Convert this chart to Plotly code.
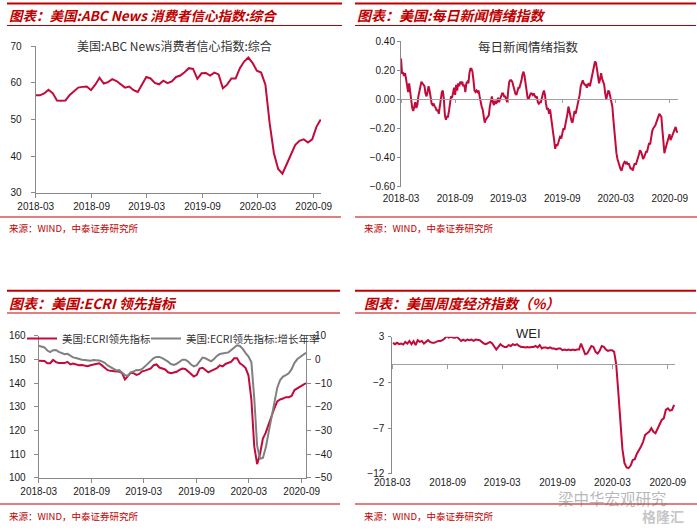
import pandas as pd
import plotly.graph_objects as go

W, H = 697, 529

# ---------------- data ----------------
tick_dates = ["2018-03-01", "2018-09-01", "2019-03-01", "2019-09-01", "2020-03-01", "2020-09-01"]
tick_labels = ["2018-03", "2018-09", "2019-03", "2019-09", "2020-03", "2020-09"]

# Panel 1: ABC News consumer comfort index (bi-weekly readings)
abc_start, abc_end = "2018-03-01", "2020-09-24"
abc_values = [56.6, 56.6, 57.1, 58.1, 57.2, 55.2, 55.1, 55.2, 56.7, 57.7,
              58.7, 58.9, 59.0, 58.0, 59.5, 61.4, 59.8, 60.2, 61.0, 60.5,
              59.5, 58.7, 59.0, 58.0, 57.5, 59.4, 61.6, 61.2, 60.0, 59.6,
              60.6, 59.9, 60.4, 61.6, 62.0, 62.9, 64.0, 63.8, 61.1, 62.6,
              62.7, 62.0, 62.8, 62.3, 58.5, 59.5, 61.2, 61.2, 64.0, 65.8,
              66.9, 65.4, 63.3, 62.8, 59.5, 49.0, 40.8, 36.5, 35.2, 37.8,
              40.3, 43.0, 44.2, 44.6, 43.7, 44.6, 48.0, 50.0]

# Panel 2: daily news sentiment index
dns_start, dns_end = "2018-03-01", "2020-09-28"
dns_values = [0.28, 0.18, 0.18, 0.16, 0.18, 0.13, 0.09, 0.05, 0.11, 0.05,
              0.01, -0.06, -0.08, -0.05, -0.02, -0.06, -0.04, 0.02, 0.05, 0.08,
              0.12, 0.11, 0.10, 0.09, 0.04, 0.02, 0.05, 0.09, 0.06, -0.00,
              -0.03, -0.04, -0.03, -0.05, -0.06, -0.08, -0.07, -0.10, -0.04, 0.01,
              0.05, 0.06, 0.00, -0.11, -0.14, -0.12, -0.12, -0.08, -0.04, 0.02,
              0.01, 0.06, 0.08, 0.03, 0.10, 0.06, 0.11, 0.09, 0.12, 0.11,
              0.12, 0.09, 0.10, 0.05, 0.11, 0.12, 0.11, 0.18, 0.21, 0.21,
              0.19, 0.13, 0.06, 0.05, 0.06, 0.05, 0.06, 0.02, -0.02, -0.05,
              -0.07, -0.13, -0.16, -0.14, -0.13, -0.12, -0.11, -0.05, -0.02, 0.02,
              -0.02, -0.04, -0.01, -0.03, -0.02, 0.01, -0.02, 0.00, 0.02, 0.04,
              0.04, 0.02, 0.02, 0.00, -0.02, 0.06, 0.12, 0.13, 0.13, 0.12,
              0.09, 0.05, 0.04, 0.03, 0.05, 0.08, 0.08, 0.10, 0.13, 0.17,
              0.19, 0.16, 0.11, 0.05, 0.01, 0.00, 0.02, 0.04, 0.04, 0.03,
              0.04, 0.02, 0.01, 0.02, -0.02, -0.03, -0.02, -0.02, 0.02, 0.04,
              0.06, 0.03, -0.03, -0.07, -0.06, -0.10, -0.07, -0.14, -0.21, -0.23,
              -0.28, -0.34, -0.31, -0.32, -0.30, -0.27, -0.25, -0.27, -0.23, -0.20,
              -0.21, -0.18, -0.13, -0.10, -0.05, -0.08, -0.13, -0.15, -0.16, -0.12,
              -0.08, -0.10, -0.07, -0.04, 0.00, 0.03, 0.09, 0.12, 0.13, 0.11,
              0.10, 0.10, 0.08, 0.10, 0.11, 0.09, 0.12, 0.16, 0.18, 0.22,
              0.26, 0.25, 0.20, 0.14, 0.11, 0.14, 0.18, 0.14, 0.11, 0.10,
              0.04, 0.00, 0.03, 0.06, 0.05, 0.02, 0.00, -0.05, -0.14, -0.23,
              -0.30, -0.37, -0.41, -0.44, -0.46, -0.48, -0.49, -0.46, -0.44, -0.43,
              -0.44, -0.43, -0.45, -0.44, -0.46, -0.48, -0.47, -0.49, -0.46, -0.44,
              -0.45, -0.43, -0.41, -0.38, -0.35, -0.36, -0.38, -0.41, -0.40, -0.37,
              -0.36, -0.36, -0.32, -0.30, -0.31, -0.26, -0.22, -0.20, -0.19, -0.18,
              -0.16, -0.14, -0.11, -0.10, -0.11, -0.12, -0.21, -0.32, -0.37, -0.34,
              -0.31, -0.30, -0.27, -0.24, -0.28, -0.26, -0.24, -0.22, -0.21, -0.19,
              -0.22, -0.23]

# Panel 3: ECRI weekly leading index (level, left axis) and growth rate (%, right axis)
ecri_start, ecri_end = "2018-03-01", "2020-09-16"
ecri_level = [149.5, 149.5, 149.4, 148.4, 148.4, 149.8, 148.9, 148.5, 148.4, 148.5,
              149.0, 147.9, 148.3, 148.0, 147.6, 147.7, 147.4, 147.2, 147.6, 147.8,
              148.0, 148.4, 147.5, 146.3, 145.5, 145.2, 144.9, 144.9, 144.9, 144.3,
              141.6, 142.9, 144.4, 144.2, 143.5, 143.9, 145.0, 145.3, 145.6, 146.2,
              147.6, 147.9, 146.6, 146.3, 145.8, 144.6, 144.2, 144.5, 144.8, 145.6,
              146.2, 146.0, 145.0, 143.7, 142.8, 143.5, 146.2, 146.5, 145.6, 144.6,
              145.2, 145.7, 146.3, 147.5, 147.1, 148.1, 148.5, 149.1, 150.5, 150.5,
              148.4, 147.6, 146.4, 143.2, 133.0, 113.3, 105.8, 110.1, 116.6, 119.1,
              122.6, 126.2, 129.4, 132.3, 133.1, 133.5, 134.1, 134.1, 134.6, 137.1,
              137.9, 138.6, 139.2, 140.0]
ecri_growth = [5.8, 5.5, 5.1, 3.8, 3.1, 3.9, 4.0, 3.2, 2.6, 2.2,
               2.4, 1.6, 0.9, 0.6, 0.1, -0.1, -0.2, -0.5, -0.5, -0.2,
               -0.2, -0.4, -0.8, -1.4, -2.5, -3.2, -4.2, -4.6, -4.5, -5.5,
               -6.6, -6.9, -5.4, -5.1, -4.4, -4.5, -4.0, -2.9, -1.7, -0.7,
               0.6, 1.1, 1.1, 0.6, -0.1, -0.9, -1.9, -2.3, -1.8, -1.0,
               -0.1, -0.1, -0.9, -2.1, -2.9, -2.4, -1.0, 0.8, 0.5, -0.3,
               -0.8, 0.2, 1.5, 2.3, 2.6, 2.7, 3.0, 4.0, 5.0, 6.0,
               5.7, 4.5, 2.7, 1.2, -1.2, -16.4, -36.5, -41.9, -41.6, -37.2,
               -30.8, -23.9, -18.1, -11.9, -8.7, -7.2, -6.6, -5.8, -4.1, -1.4,
               0.2, 1.1, 1.8, 2.8]

# Panel 4: Weekly Economic Index (%)
wei_start, wei_end = "2018-03-03", "2020-09-22"
wei_values = [2.35, 2.20, 2.35, 2.20, 2.27, 2.16, 2.45, 2.27, 2.56, 2.20,
              2.53, 2.10, 2.64, 2.45, 2.56, 2.27, 2.45, 2.64, 2.45, 2.35,
              2.35, 2.45, 2.56, 2.56, 2.64, 2.82, 3.10, 2.93, 3.00, 2.93,
              2.90, 3.00, 2.82, 2.56, 2.70, 2.56, 2.70, 2.64, 2.70, 2.56,
              2.70, 2.70, 2.64, 2.45, 2.27, 2.20, 2.35, 2.45, 2.27, 1.90,
              1.62, 1.90, 2.20, 2.00, 1.90, 1.90, 2.10, 2.00, 2.20, 2.10,
              2.20, 2.00, 1.90, 1.90, 1.84, 1.90, 1.84, 1.90, 1.90, 2.00,
              1.84, 2.10, 1.73, 1.84, 1.84, 1.73, 1.84, 1.73, 1.73, 1.62,
              1.73, 1.73, 1.54, 1.62, 1.54, 1.62, 1.54, 1.62, 1.54, 1.62,
              1.62, 2.27, 1.73, 1.10, 1.18, 1.62, 2.00, 1.90, 1.36, 1.18,
              1.47, 2.00, 1.90, 1.62, 1.47, 1.54, 1.54, 1.36, 0.00, -3.00,
              -6.70, -9.30, -10.80, -11.30, -11.38, -11.10, -10.50, -10.40, -9.80, -9.45,
              -9.00, -8.50, -7.74, -7.56, -7.37, -7.00, -7.40, -7.56, -7.12, -6.54,
              -6.10, -5.92, -5.00, -4.83, -5.08, -5.00, -4.46]

abc_dates = pd.date_range(abc_start, abc_end, periods=len(abc_values))
dns_dates = pd.date_range(dns_start, dns_end, periods=len(dns_values))
ecri_dates = pd.date_range(ecri_start, ecri_end, periods=len(ecri_level))
wei_dates = pd.date_range(wei_start, wei_end, periods=len(wei_values))

# ---------------- styling ----------------
RED = "#C20B3A"
HEAD_RED = "#C00000"
GRAY_LINE = "#808080"
AX = "#8a8a8a"
TICKFONT = "Liberation Sans, Arial, Noto Sans CJK SC"
CJK = "Noto Sans CJK SC, Liberation Sans"


def fx(px):
    return px / W


def fy(py):
    return 1 - py / H


def xaxis(dom, rng, anchor, **kw):
    d = dict(domain=[fx(dom[0]), fx(dom[1])], range=rng, anchor=anchor,
             type="date", tickvals=tick_dates, ticktext=tick_labels,
             showgrid=False, zeroline=False, showline=True, linecolor=AX,
             ticks="outside", ticklen=4, tickcolor=AX, automargin=False,
             tickfont=dict(family=TICKFONT, size=10, color="#1a1a1a"))
    d.update(kw)
    return d


def yaxis(dom, rng, anchor, **kw):
    d = dict(domain=[fy(dom[1]), fy(dom[0])], range=rng, anchor=anchor,
             showgrid=False, zeroline=False, showline=True, linecolor=AX,
             ticks="outside", ticklen=4, tickcolor=AX, automargin=False,
             tickfont=dict(family=TICKFONT, size=10, color="#1a1a1a"))
    d.update(kw)
    return d


fig = go.Figure()

# panel 1
fig.add_trace(go.Scatter(x=abc_dates, y=abc_values, mode="lines",
                         line=dict(color=RED, width=2), showlegend=False,
                         xaxis="x", yaxis="y"))
# panel 2
fig.add_trace(go.Scatter(x=dns_dates, y=dns_values, mode="lines",
                         line=dict(color=RED, width=2), showlegend=False,
                         xaxis="x2", yaxis="y2"))
fig.add_trace(go.Scatter(x=[dns_dates[0]], y=[None], mode="lines", showlegend=False,
                         hoverinfo="skip", xaxis="x5", yaxis="y2"))
# panel 3
fig.add_trace(go.Scatter(x=ecri_dates, y=ecri_level, mode="lines", name="美国:ECRI领先指标",
                         line=dict(color=RED, width=2), xaxis="x3", yaxis="y3", legend="legend"))
fig.add_trace(go.Scatter(x=ecri_dates, y=ecri_growth, mode="lines", name="美国:ECRI领先指标:增长年率",
                         line=dict(color=GRAY_LINE, width=2), xaxis="x3", yaxis="y4", legend="legend2"))
# panel 4
fig.add_trace(go.Scatter(x=wei_dates, y=wei_values, mode="lines",
                         line=dict(color=RED, width=2), showlegend=False,
                         xaxis="x4", yaxis="y5"))
fig.add_trace(go.Scatter(x=[wei_dates[0]], y=[None], mode="lines", showlegend=False,
                         hoverinfo="skip", xaxis="x6", yaxis="y5"))

# axis geometry (pixel positions of the plot areas)
P1 = dict(x=(35.7, 321), y=(46, 193))
P2 = dict(x=(401, 678), y=(41, 186.7))
P3 = dict(x=(38.7, 306), y=(335.7, 478))
P4 = dict(x=(392.3, 675), y=(336.7, 474))

r1 = ["2018-03-01", "2020-09-25"]
r2 = ["2018-03-01", "2020-09-29"]
r3 = ["2018-03-01", "2020-09-16"]
r4 = ["2018-03-01", "2020-09-25"]

y2r = [-0.6005, 0.4005]
y5r = [-12.02, 3.02]


def zero_pos(P, rng):
    lo, hi = fy(P["y"][1]), fy(P["y"][0])
    return lo + (0 - rng[0]) / (rng[1] - rng[0]) * (hi - lo)


legend_style = dict(orientation="h", y=fy(324), xanchor="left", yanchor="top",
                    bgcolor="rgba(0,0,0,0)", font=dict(family=CJK, size=10.5, color="#333333"),
                    itemwidth=30, tracegroupgap=0)

fig.update_layout(
    xaxis=xaxis(P1["x"], r1, "y"),
    yaxis=yaxis(P1["y"], [29.95, 70.05], "x", tickvals=[30, 40, 50, 60, 70], ticklabelstandoff=7),
    xaxis2=xaxis(P2["x"], r2, "y2", showline=False, ticks="", ticklabelstandoff=4),
    yaxis2=yaxis(P2["y"], y2r, "x2", tickvals=[-0.6, -0.4, -0.2, 0, 0.2, 0.4], tickformat=".2f", ticklen=3),
    xaxis5=dict(overlaying="x2", range=r2, type="date", anchor="free", position=zero_pos(P2, y2r),
                showline=True, linecolor="#a0a0a0", ticks="outside", ticklen=3, tickcolor="#a0a0a0",
                tickvals=tick_dates, showticklabels=False, showgrid=False, zeroline=False, automargin=False),
    xaxis3=xaxis(P3["x"], r3, "y3"),
    yaxis3=yaxis(P3["y"], [99.95, 160.05], "x3", tickvals=[100, 110, 120, 130, 140, 150, 160], ticklabelstandoff=6),
    yaxis4=yaxis(P3["y"], [-50.05, 10.05], "x3", overlaying="y3", side="right",
                 tickvals=[-50, -40, -30, -20, -10, 0, 10], ticklabelstandoff=2),
    xaxis4=xaxis(P4["x"], r4, "y5", showline=False, ticks="", ticklabelstandoff=1),
    yaxis5=yaxis(P4["y"], y5r, "x4", tickvals=[-12, -7, -2, 3], ticklen=3, ticklabelstandoff=2),
    xaxis6=dict(overlaying="x4", range=r4, type="date", anchor="free", position=zero_pos(P4, y5r),
                showline=True, linecolor="#a0a0a0", ticks="outside", ticklen=4, tickcolor="#a0a0a0",
                tickvals=tick_dates, showticklabels=False, showgrid=False, zeroline=False, automargin=False),
    width=W, height=H,
    margin=dict(l=0, r=0, t=0, b=0, pad=0, autoexpand=False),
    paper_bgcolor="white", plot_bgcolor="rgba(0,0,0,0)",
    showlegend=True,
    legend=dict(legend_style, x=fx(22)),
    legend2=dict(legend_style, x=fx(146)),
    font=dict(family=TICKFONT),
)

shapes = []


def hline(x0, x1, py, w, color=HEAD_RED):
    shapes.append(dict(type="line", xref="paper", yref="paper", x0=fx(x0), x1=fx(x1),
                       y0=fy(py), y1=fy(py), line=dict(color=color, width=w)))


# header lines
for (x0, x1) in [(7, 342), (355, 696)]:
    hline(x0, x1, 3.5, 2)
    hline(x0, x1, 25.5, 1.2)
for (x0, x1) in [(7, 340), (355, 696)]:
    hline(x0, x1, 290.7, 2)
    hline(x0, x1, 313, 1.2)
# source lines
hline(0, 341, 217, 1.2)
hline(355, 697, 217, 1.2)
hline(0, 340, 504, 1.2)
hline(355, 697, 504, 1.2)

annotations = []


def text(px, py, s, size, color, xanchor="left", family=CJK, bold=False, italic=False):
    annotations.append(dict(xref="paper", yref="paper", x=fx(px), y=fy(py), text=s,
                            showarrow=False, xanchor=xanchor, yanchor="middle",
                            font=dict(family=family, size=size, color=color,
                                      weight="bold" if bold else "normal",
                                      style="italic" if italic else "normal")))


# panel titles
text(7, 15, "图表：美国:ABC News 消费者信心指数:综合", 13.5, HEAD_RED, bold=True, italic=True)
text(355, 15, "图表：美国:每日新闻情绪指数", 14, HEAD_RED, bold=True, italic=True)
text(7, 302.5, "图表：美国:ECRI 领先指标", 14, HEAD_RED, bold=True, italic=True)
text(362, 302.5, "图表：美国周度经济指数（%）", 14, HEAD_RED, bold=True, italic=True)

# sources
src = "来源：WIND，中泰证券研究所"
text(7, 227.5, src, 9.5, HEAD_RED)
text(362, 227.5, src, 9.5, HEAD_RED)
text(7, 515.5, src, 9.5, HEAD_RED)
text(362, 515.5, src, 9.5, HEAD_RED)

# in-chart titles
text(174.5, 45.5, "美国:ABC News消费者信心指数:综合", 12, "#333333", xanchor="center")
text(528, 46.5, "每日新闻情绪指数", 12.5, "#333333", xanchor="center")
text(528, 333, "WEI", 13, "#222222", xanchor="center", family=TICKFONT)

# watermark
text(556, 498, "梁中华宏观研究", 15.5, "rgba(110,110,110,0.5)")
text(640, 516, "格隆汇", 14, "rgba(150,150,150,0.55)", bold=True)

fig.update_layout(shapes=shapes, annotations=annotations)

fig.write_html("out.html", config={"displayModeBar": False},
               post_script="document.body.style.margin='0';document.body.style.overflow='hidden';")
